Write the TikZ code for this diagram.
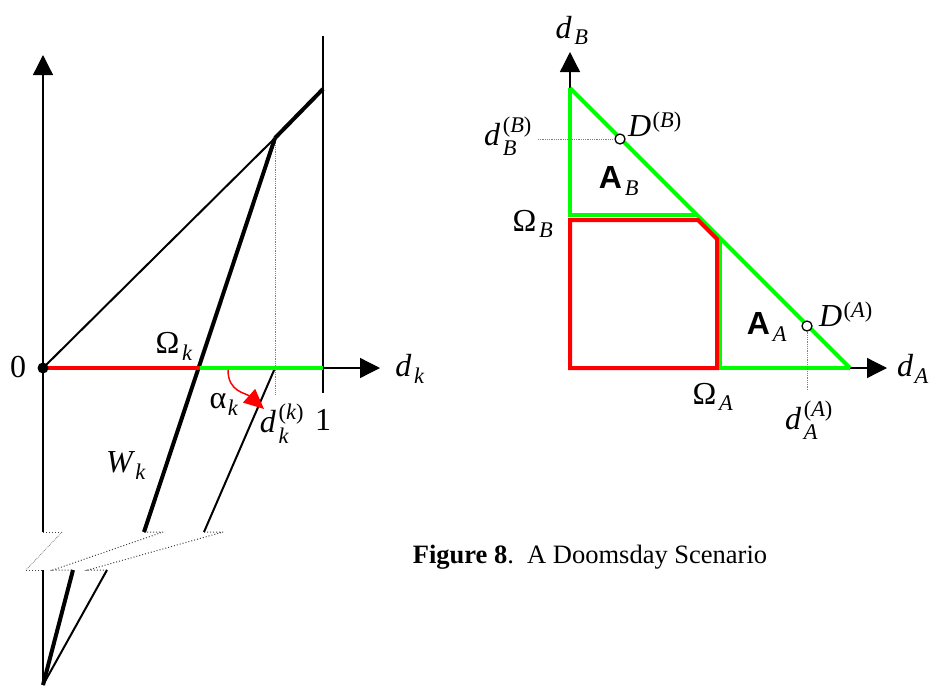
\documentclass[tikz,border=0pt]{standalone}
\usepackage{amsmath}
\usepackage{fontspec}
\setmainfont{Liberation Serif}
\setsansfont{Liberation Sans}
\usetikzlibrary{arrows.meta}
\definecolor{lossred}{RGB}{255,0,0}
\definecolor{gaingreen}{RGB}{0,255,0}
\newcommand{\mi}[1]{\textit{#1}}
\newcommand{\area}{\textsf{\textbf{A}}}
\newcommand{\pr}[1]{\text{(}\mi{#1}\text{)}}

\begin{document}
\begin{tikzpicture}[x=1pt, y=-1pt, font=\fontsize{32}{34}\selectfont,
    axis/.style={line width=1.3pt, -{Triangle[length=20pt, width=20pt]}},
    thinline/.style={line width=1.3pt},
    medline/.style={line width=2pt},
    heavy/.style={line width=4pt},
    redline/.style={line width=4pt, draw=lossred},
    greenline/.style={line width=4pt, draw=gaingreen},
    guide/.style={densely dotted, line width=0.8pt, draw=gray},
    breakline/.style={dotted, line width=1pt, draw=black!75},
    marker/.style={circle, draw, fill=white, line width=1.3pt, inner sep=0pt, minimum size=10pt}]
    \useasboundingbox (0,0) rectangle (930,686);

    % left panel: points
    \coordinate (O) at (43,368);
    \coordinate (yTop) at (43,55);
    \coordinate (yBrk) at (43,532);
    \coordinate (yRes) at (43,570);
    \coordinate (yBot) at (43,685);
    \coordinate (xEnd) at (380,368);
    \coordinate (kink) at (275,138);
    \coordinate (cap) at (323,89);
    \coordinate (omk) at (200,368);
    \coordinate (dkk) at (275,368);
    \coordinate (one) at (323,368);
    \coordinate (oneTop) at (323,36);
    \coordinate (oneBot) at (323,393);
    \coordinate (dkkBot) at (275,395);
    \coordinate (wBrk) at (144,532);
    \coordinate (wRes) at (73,570);
    \coordinate (dBrk) at (204,532);
    \coordinate (dRes) at (107,570);

    % axes
    \draw[axis] (yBrk) -- (yTop);
    \draw[thinline] (yRes) -- (yBot);
    \draw[axis] (O) -- (xEnd);
    \draw[thinline] (oneTop) -- (oneBot);
    \draw[guide] (kink) -- (dkkBot);

    % broken axis
    \draw[breakline] (yBrk) -- ++(19,0);
    \draw[guide] (62,532) -- (26,570);
    \draw[breakline] (26,570) -- (yRes);
    \draw[breakline] (wBrk) -- ++(19,0) -- (53,570) -- (wRes);
    \draw[breakline] (dBrk) -- ++(19,0) -- (88,570) -- (dRes);

    % lines
    \draw[medline] (O) -- (kink);
    \draw[heavy] (kink) -- (cap);
    \draw[heavy] (kink) -- (wBrk);
    \draw[heavy] (wRes) -- (yBot);
    \draw[medline] (dkk) -- (dBrk);
    \draw[medline] (dRes) -- (yBot);
    \draw[redline] (O) -- (omk);
    \draw[greenline] (omk) -- (one);
    \fill (O) circle (5.5pt);
    \draw[lossred, line width=1.5pt, -{Triangle[length=20pt, width=18pt]}]
        (228,370) .. controls (228,392) and (246,393) .. (264,409);

    \node (zeroL) at (18,367) {0};
    \node (omkL) at (174,346) {Ω$\mkern2mu_{\mi{k}}$};
    \node (alkL) at (224,404) {α$\mkern1mu_{\mi{k}}$};
    \node (dkkL) at (282,424) {$\mi{d}\mkern2mu_{\mi{k}}^{\pr{k}}$};
    \node (oneL) at (323,420) {1};
    \node (wkL) at (126,466) {$\mi{W}\mkern2mu_{\mi{k}}$};
    \node (dkL) at (410,369) {$\mi{d}\mkern2mu_{\mi{k}}$};

    % right panel: points
    \coordinate (RyTop) at (570,52);
    \coordinate (RxEnd) at (887,368);
    \coordinate (hypTop) at (570,88);
    \coordinate (hypBot) at (850,368);
    \coordinate (omB) at (570,215);
    \coordinate (omBr) at (697,215);
    \coordinate (omA) at (720,368);
    \coordinate (omAt) at (720,238);

    \draw[axis] (hypTop) -- (RyTop);
    \draw[axis] (hypBot) -- (RxEnd);
    \draw[greenline] (hypTop) -- (hypBot);
    \draw[greenline] (hypTop) -- (omB) -- (omBr);
    \draw[greenline] (omAt) -- (omA) -- (hypBot);
    \draw[redline] (570,220) -- (698,220) -- (717,239) -- (717,368) -- (570,368) -- cycle;

    \node[marker] (DB) at (620,139) {};
    \node[marker] (DA) at (807,326) {};
    \coordinate (dBB) at (538,139);
    \coordinate (dAA) at (807,390);
    \draw[guide] (dBB) -- (DB);
    \draw[guide] (DA) -- (dAA);

    \node (dBL) at (572,30) {$\mi{d}\mkern2mu_{\mi{B}}$};
    \node (dBBL) at (508,136) {$\mi{d}\mkern2mu_{\mi{B}}^{\pr{B}}$};
    \node (DBL) at (655,124) {$\mi{D}\mkern1mu^{\pr{B}}$};
    \node (ABL) at (619,181) {\area$\mkern2mu_{\mi{B}}$};
    \node (omBL) at (533,224) {Ω$\mkern2mu_{\mi{B}}$};
    \node (AAL) at (767,327) {\area$\mkern2mu_{\mi{A}}$};
    \node (DAL) at (846,314) {$\mi{D}\mkern1mu^{\pr{A}}$};
    \node (omAL) at (713,397) {Ω$\mkern2mu_{\mi{A}}$};
    \node (dAAL) at (809,420) {$\mi{d}\mkern2mu_{\mi{A}}^{\pr{A}}$};
    \node[inner sep=1pt] (dAL) at (913,369) {$\mi{d}\mkern1mu_{\mi{A}}$};

    \node[font=\fontsize{26.5}{30}\selectfont] (caption) at (590,557)
        {\textbf{Figure 8}.\ \ A Doomsday Scenario};
\end{tikzpicture}
\end{document}
